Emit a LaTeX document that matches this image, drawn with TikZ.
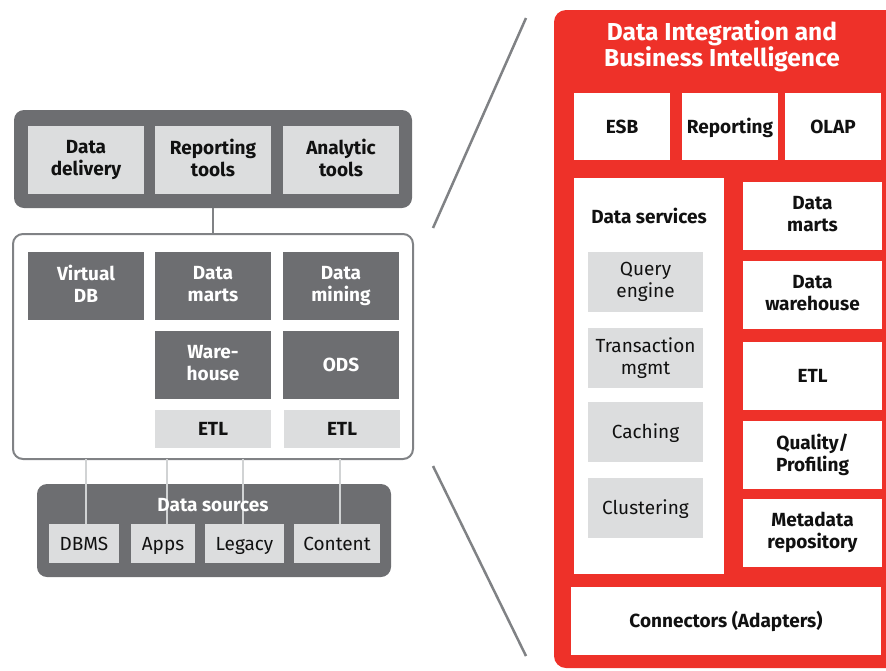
\documentclass[tikz,border=0pt]{standalone}
\usepackage{fontspec}
\setmainfont{Fira Sans}
% strut balanced around the middle of capitals
\newcommand\boxstrut{\rule[-4.5pt]{0pt}{22pt}}
\begin{document}
\begin{tikzpicture}[x=1pt,y=-1pt,
  font=\fontsize{19}{22}\selectfont\bfseries,
  every node/.style={execute at begin node=\boxstrut, execute at end node=\boxstrut},
  box/.style={inner sep=0pt, align=center, minimum width=116pt, minimum height=68pt},
  darkbox/.style={box, fill=dkgray, text=white},
  litebox/.style={box, fill=ltgray, text=txt},
  whitebox/.style={box, fill=white, text=txt},
  srcbox/.style={inner sep=0pt, align=center, fill=ltgray, text=txt, minimum height=39pt,
    font=\fontsize{19}{22}\selectfont\mdseries},
  svcbox/.style={inner sep=0pt, align=center, fill=ltgray, text=txt, minimum width=115pt,
    minimum height=60pt, font=\fontsize{19}{22}\selectfont\mdseries},
  panel/.style={rounded corners=10pt},
  wire/.style={ltline, line width=2.5pt},
  zoomline/.style={midgray, line width=2.5pt}]
\definecolor{dkgray}{HTML}{6D6E71}
\definecolor{ltgray}{HTML}{DCDDDE}
\definecolor{ltline}{HTML}{D1D3D4}
\definecolor{midgray}{HTML}{808285}
\definecolor{redbg}{HTML}{EE3129}
\definecolor{txt}{HTML}{111111}

\useasboundingbox (0,0) rectangle (886,670);
\clip (0,0) rectangle (886,670);

% ---- left: application stack ----
\fill[dkgray, panel] (14,110) rectangle (412,208);
\node[minimum width=398pt, minimum height=98pt, inner sep=0pt] (tools) at (213,159) {};
\node[litebox] (dd) at (86,160) {Data\\delivery};
\node[litebox] (rt) at (213,160) {Reporting\\tools};
\node[litebox] (at) at (341,160) {Analytic\\tools};

\draw[midgray, line width=2pt, panel] (13,234) rectangle (413,459);
\node[minimum width=400pt, minimum height=225pt, inner sep=0pt] (store) at (213,346.5) {};
\draw[midgray, line width=2.5pt] (tools.south) -- (store.north);

\node[darkbox] (vdb) at (86,286) {Virtual\\DB};
\node[darkbox] (dm) at (213,286) {Data\\marts};
\node[darkbox] (dmin) at (341,286) {Data\\mining};
\node[darkbox] (wh) at (213,365) {Ware-\\house};
\node[darkbox] (ods) at (341,365) {ODS};
\node[litebox, minimum height=38pt] (etla) at (213,429) {ETL};
\node[litebox, minimum height=38pt] (etlb) at (342,429) {ETL};

\fill[dkgray, panel] (37,484) rectangle (391,577);
\node[minimum width=354pt, minimum height=93pt, inner sep=0pt] (src) at (214,530.5) {};

\node[srcbox, minimum width=70pt] (dbms) at (84,543.5) {DBMS};
\node[srcbox, minimum width=64pt] (apps) at (163,543.5) {Apps};
\node[srcbox, minimum width=79pt] (leg) at (244.5,543.5) {Legacy};
\node[srcbox, minimum width=86pt] (cont) at (337,543.5) {Content};

\draw[wire] ([xshift=2pt]dbms.north) -- ([xshift=2pt]dbms.north |- store.south);
\draw[wire] ([xshift=4pt]apps.north) -- ([xshift=4pt]apps.north |- store.south);
\draw[wire] ([xshift=-1.5pt]leg.north) -- ([xshift=-1.5pt]leg.north |- store.south);
\draw[wire] ([xshift=3pt]cont.north) -- ([xshift=3pt]cont.north |- store.south);
\node[text=white, inner sep=0pt] (srct) at (213,505) {Data sources};

% ---- zoom lines ----
\coordinate (za) at (433,228);
\coordinate (zb) at (526,18);
\coordinate (zc) at (433,466);
\coordinate (zd) at (526,656);
\draw[zoomline] (za) -- (zb);
\draw[zoomline] (zc) -- (zd);

% ---- right: integration platform ----
\fill[redbg, rounded corners=12pt] (554,10) rectangle (910,668);
\node[text=white, align=center, inner sep=0pt, font=\fontsize{24.5}{25}\selectfont\bfseries]
  (title) at (722,46) {Data Integration and\\Business Intelligence};

\node[whitebox, minimum width=96pt, minimum height=67pt] (esb) at (622,126.5) {ESB};
\node[whitebox, minimum width=96pt, minimum height=67pt] (rep) at (730,126.5) {Reporting};
\node[whitebox, minimum width=96pt, minimum height=67pt] (olap) at (833,126.5) {OLAP};

\node[whitebox, minimum width=150pt, minimum height=396pt] (ds) at (649,376) {};
\node[text=txt, inner sep=0pt] (dst) at (649,217) {Data services};
\node[svcbox] (qe) at (645.5,282) {Query\\engine};
\node[svcbox] (tm) at (645.5,358) {Transaction\\mgmt};
\node[svcbox] (ca) at (645.5,432) {Caching};
\node[svcbox] (cl) at (645.5,508) {Clustering};

\node[whitebox, minimum width=139pt] (rdm) at (812.5,216) {Data\\marts};
\node[whitebox, minimum width=139pt] (rdw) at (812.5,295) {Data\\warehouse};
\node[whitebox, minimum width=139pt] (retl) at (812.5,376) {ETL};
\node[whitebox, minimum width=139pt] (rqp) at (812.5,455) {Quality/\\Profiling};
\node[whitebox, minimum width=139pt] (rmd) at (812.5,533) {Metadata\\repository};

\node[whitebox, minimum width=310pt] (conn) at (726,621) {Connectors (Adapters)};
\end{tikzpicture}
\end{document}
